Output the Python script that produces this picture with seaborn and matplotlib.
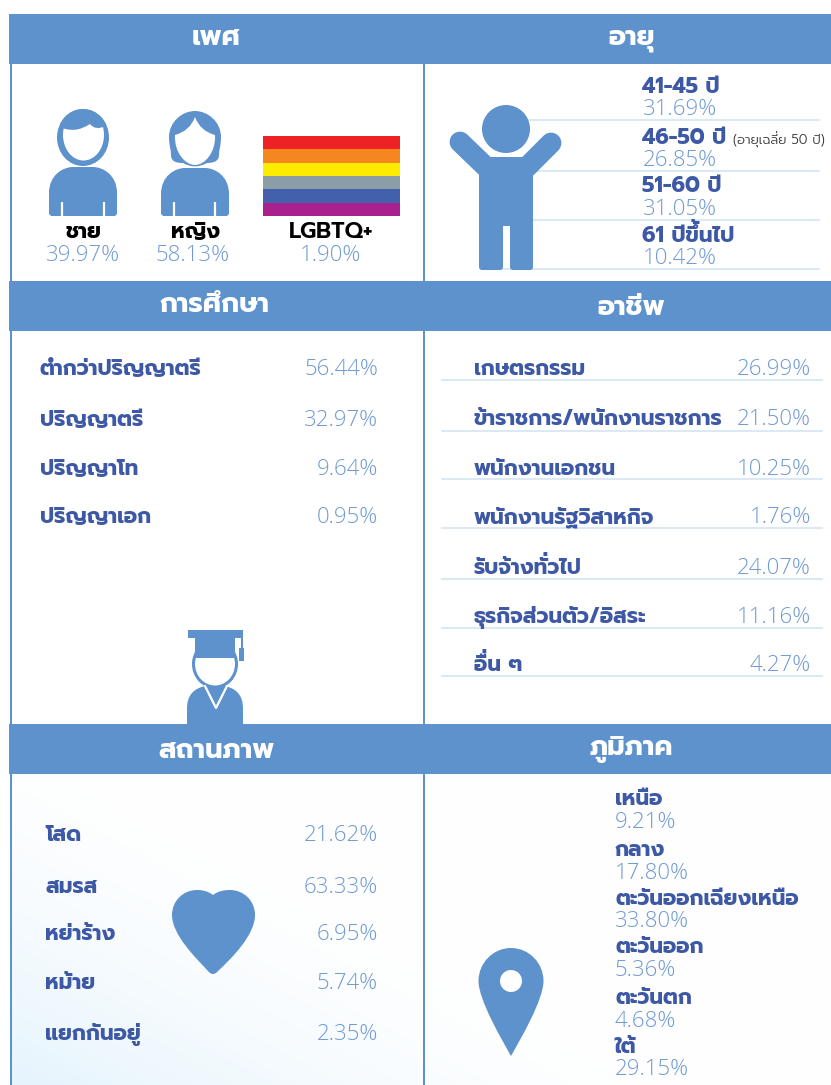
import re
import numpy as np
import matplotlib
matplotlib.use('Agg')
import matplotlib.pyplot as plt
import seaborn as sns
from matplotlib.colors import ListedColormap, LinearSegmentedColormap
from matplotlib.patches import Rectangle, Ellipse, Circle, PathPatch, FancyBboxPatch
from matplotlib.path import Path

gender_labels = ['ชาย', 'หญิง', 'LGBTQ+']
gender_values = [39.97, 58.13, 1.90]
age_labels = ['41-45 ปี', '46-50 ปี', '51-60 ปี', '61 ปีขึ้นไป']
age_values = [31.69, 26.85, 31.05, 10.42]
age_note = '(อายุเฉลี่ย 50 ปี)'
edu_labels = ['ต่ำกว่าปริญญาตรี', 'ปริญญาตรี', 'ปริญญาโท', 'ปริญญาเอก']
edu_values = [56.44, 32.97, 9.64, 0.95]
job_labels = ['เกษตรกรรม', 'ข้าราชการ/พนักงานราชการ', 'พนักงานเอกชน', 'พนักงานรัฐวิสาหกิจ',
              'รับจ้างทั่วไป', 'ธุรกิจส่วนตัว/อิสระ', 'อื่น ๆ']
job_values = [26.99, 21.50, 10.25, 1.76, 24.07, 11.16, 4.27]
status_labels = ['โสด', 'สมรส', 'หย่าร้าง', 'หม้าย', 'แยกกันอยู่']
status_values = [21.62, 63.33, 6.95, 5.74, 2.35]
region_labels = ['เหนือ', 'กลาง', 'ตะวันออกเฉียงเหนือ', 'ตะวันออก', 'ตะวันตก', 'ใต้']
region_values = [9.21, 17.80, 33.80, 5.36, 4.68, 29.15]
flag_colors = ['#ee2224', '#f68620', '#feec00', '#8b9ea8', '#4360ad', '#a9218c']

BLUE = '#5e92cd'
NAVY = '#3d58a5'
LIGHT = '#6f9ad4'
RULE = '#dce8f4'
THAI = ['Prompt', 'DejaVu Sans']
NUM = ['Open Sans', 'DejaVu Sans']

sns.set_theme(style='white')
plt.rcParams['font.family'] = THAI

fig = plt.figure(figsize=(8.31, 10.85), dpi=100)
ax = fig.add_axes([0, 0, 1, 1])

# soft gradient behind the bottom row
yy, xx = np.mgrid[0:1:120j, 0:1:200j]
grad = np.clip(1 - (1.2 * xx + 0.85 * (1 - yy)), 0, 1) ** 1.6 + 0.02
grad_cmap = LinearSegmentedColormap.from_list('bg', ['#ffffff', '#e6f4fd'])
ax.imshow(grad, extent=(10, 831, 1085, 774), cmap=grad_cmap, vmin=0, vmax=1, aspect='auto', zorder=0)

ax.set_xlim(0, 831)
ax.set_ylim(1085, 0)
ax.axis('off')

renderer = fig.canvas.get_renderer()


def text_width(s, **kw):
    t = ax.text(0, 0, s, ha='left', **kw)
    w = t.get_window_extent(renderer).width
    t.remove()
    return w


def label(x, y, s, color=NAVY, size=15.4, ha='left', weight=700):
    kw = dict(color=color, fontsize=size, va='baseline', family=THAI, weight=weight, zorder=5)
    # no text shaping here, so a tone mark above an upper vowel has to be lifted by hand
    m = re.search('[ัิีึื][่้]', s)
    if m is None or ha != 'left':
        ax.text(x, y, s, ha=ha, **kw)
        return
    cut = m.end() - 1
    pen = x + text_width(s[:cut], **kw)
    gap = text_width('ก\u00a0', **kw) - text_width('ก', **kw)
    ax.text(x, y, s[:cut] + s[cut + 1:], ha='left', **kw)
    ax.text(pen - gap, y - size * 0.33, '\u00a0' + s[cut], ha='left', **kw)


def pct(x, y, v, ha='right', size=16):
    ax.text(x, y, f'{v:.2f}%', color=LIGHT, fontsize=size, ha=ha, va='baseline', family=NUM, weight=300, zorder=5)


def shape(verts, codes, color=BLUE, z=3):
    patch = PathPatch(Path(verts, codes), facecolor=color, edgecolor='none', zorder=z)
    ax.add_patch(patch)
    return patch


M, L, C3, C4, Z = Path.MOVETO, Path.LINETO, Path.CURVE3, Path.CURVE4, Path.CLOSEPOLY


def body(x0, x1, y0, y1):
    shape([(x0, y1 - 2), (x0, y0 + 26), (x0, y0 + 8), (x0 + 14, y0), (x0 + 24, y0), (x1 - 24, y0),
           (x1 - 14, y0), (x1, y0 + 8), (x1, y0 + 26), (x1, y1 - 2), (x1 - 2, y1), (x0 + 2, y1), (x0, y1 - 2)],
          [M, L, C4, C4, C4, L, C4, C4, C4, L, L, L, L])


# header bands and frame lines
for top in [14, 281, 724]:
    ax.add_patch(Rectangle((9, top), 822, 50, facecolor=BLUE, edgecolor='none', zorder=2))
for x in [9.8, 422.8]:
    ax.add_patch(Rectangle((x, 64), 2.5, 1021, facecolor=BLUE, edgecolor='none', zorder=1))

for x, y, s in [(216, 45, 'เพศ'), (632, 44, 'อายุ'), (215, 312, 'การศึกษา'),
                (631, 315, 'อาชีพ'), (216, 758, 'สถานภาพ'), (631, 755, 'ภูมิภาค')]:
    label(x, y, s, color='white', size=19.8, ha='center')

# gender panel
for x, xv, s, v in zip([83, 195, 331], [83, 193, 331], gender_labels, gender_values):
    label(x, 238, s, color='black', size=16.4 if s == 'LGBTQ+' else 15.4, ha='center',
          weight=600 if s == 'LGBTQ+' else 700)
    pct(xv, 261, v, ha='center')

# man
head = Ellipse((83, 137.5), 52, 57, facecolor=BLUE, edgecolor='none', zorder=3)
ax.add_patch(head)
ax.add_patch(Ellipse((83.5, 135), 41, 51, facecolor='white', edgecolor='none', zorder=3))
hair = shape([(60, 127), (75, 134), (90, 124), (95, 131), (106, 126), (106, 105), (60, 105), (60, 127)],
             [M, C3, C3, C3, C3, L, L, L], z=3)
hair.set_clip_path(head)
body(49, 117, 167, 216)
for x in [62, 104]:
    ax.plot([x, x], [202, 216], color='white', lw=1.6, zorder=4, solid_capstyle='butt')

# woman
shape([(169, 137), (169, 122), (182, 111), (195, 111), (208, 111), (221, 122), (221, 137), (221, 145),
       (219, 150), (219, 155), (219, 162), (212, 163), (207, 163), (195, 170), (183, 163), (177, 163),
       (171, 162), (171, 155), (171, 150), (169, 145), (169, 137)],
      [M, C4, C4, C4, C4, C4, C4, C4, C4, C4, C4, C4, C4, C3, C3, C4, C4, C4, C4, C4, C4], z=3)
shape([(175, 135), (190, 131), (195, 117), (200, 131), (215, 135), (216, 152), (205, 165), (195, 165),
       (185, 165), (174, 152), (175, 135)],
      [M, C3, C3, C3, C3, C4, C4, C4, C4, C4, C4], color='white', z=3)
body(161, 229, 168, 216)
for x in [174, 215]:
    ax.plot([x, x], [202, 216], color='white', lw=1.6, zorder=4, solid_capstyle='butt')

# rainbow flag
ax_flag = fig.add_axes([263 / 831, 1 - 216 / 1085, 137 / 831, 80 / 1085])
sns.heatmap(np.arange(len(flag_colors))[:, None], cmap=ListedColormap(flag_colors), cbar=False,
            xticklabels=False, yticklabels=False, ax=ax_flag)

# age panel
for y in [120, 171, 220, 269]:
    ax.plot([500, 819], [y, y], color=RULE, lw=1.5, zorder=1)
for yl, yv, s, v in zip([93, 144, 192, 242], [115, 166, 215, 264], age_labels, age_values):
    label(642, yl, s, size=15.5)
    pct(643, yv, v, ha='left')
label(733, 144, age_note, color='#333333', size=9.5, weight=300)

ax.add_patch(Circle((506, 129), 24, facecolor=BLUE, edgecolor='none', zorder=3))
for xs, ys in [([460, 487], [142, 168]), ([551, 524], [143, 170])]:
    ax.plot(xs, ys, color=BLUE, lw=15, solid_capstyle='round', zorder=3)
shape([(488, 157), (522, 157), (533, 174), (479, 174), (488, 157)], [M, L, L, L, L], z=3)
ax.add_patch(Rectangle((479, 170), 54, 56, facecolor=BLUE, edgecolor='none', zorder=3))
for x0, w in [(479, 24), (510, 23)]:
    ax.add_patch(FancyBboxPatch((x0 + 3, 220), w - 6, 47, boxstyle='round,pad=3,rounding_size=3',
                                facecolor=BLUE, edgecolor='none', zorder=3))

# education panel
for yl, s, v in zip([375, 426, 475, 523], edu_labels, edu_values):
    label(40, yl, s)
    pct(378, yl, v)

# graduate icon
ax.add_patch(Ellipse((215, 664), 43, 46, facecolor='white', edgecolor=BLUE, lw=2.2, zorder=3))
shape([(187, 724), (187, 708), (187, 690), (205, 686), (225, 686), (243, 690), (243, 708), (243, 724), (187, 724)],
      [M, L, C3, C3, L, C3, C3, L, L], z=3)
ax.plot([205, 216, 227], [686, 708, 686], color='white', lw=1.6, zorder=4)
ax.add_patch(Rectangle((188, 630), 55, 8, facecolor=BLUE, edgecolor='none', zorder=4))
ax.add_patch(Rectangle((195, 638), 40, 20, facecolor=BLUE, edgecolor='none', zorder=4))
ax.add_patch(Rectangle((241, 630), 2, 20, facecolor=BLUE, edgecolor='none', zorder=4))
ax.add_patch(Rectangle((239, 648), 5, 13, facecolor=BLUE, edgecolor='none', zorder=4))

# occupation panel
for y in [380, 431, 479, 528, 579, 628, 676]:
    ax.plot([442, 822], [y, y], color=RULE, lw=1.5, zorder=1)
for yl, s, v in zip([375, 425, 475, 523, 574, 623, 671], job_labels, job_values):
    label(474, yl, s)
    pct(811, yl, v)

# marital status panel
for yl, s, v in zip([841, 893, 940, 989, 1040], status_labels, status_values):
    label(45, yl, s)
    pct(378, yl, v)
shape([(213, 895),
       (208, 891), (202, 890), (197, 890),
       (183, 890), (172, 901), (172, 915),
       (172, 935), (196, 958), (208, 971),
       (211, 975), (215, 975), (218, 971),
       (232, 958), (255, 935), (255, 915),
       (255, 901), (244, 890), (230, 890),
       (224, 890), (218, 891), (213, 895)],
      [M] + [C4] * 21, z=3)

# region panel
for yl, yv, s, v in zip([805, 856, 905, 953, 1004, 1053], [828, 879, 927, 976, 1027, 1075],
                        region_labels, region_values):
    label(615, yl, s)
    pct(615, yv, v, ha='left')
shape([(478.5, 981), (478.5, 963), (493, 948), (511, 948), (529, 948), (543.5, 963), (543.5, 981),
       (543.5, 1000), (520, 1040), (511, 1056), (502, 1040), (478.5, 1000), (478.5, 981)],
      [M, C4, C4, C4, C4, C4, C4, C4, C4, C4, C4, C4, C4], z=3)
ax.add_patch(Circle((511, 981), 11, facecolor='white', edgecolor='none', zorder=4))

fig.savefig('out.png', dpi=100)
